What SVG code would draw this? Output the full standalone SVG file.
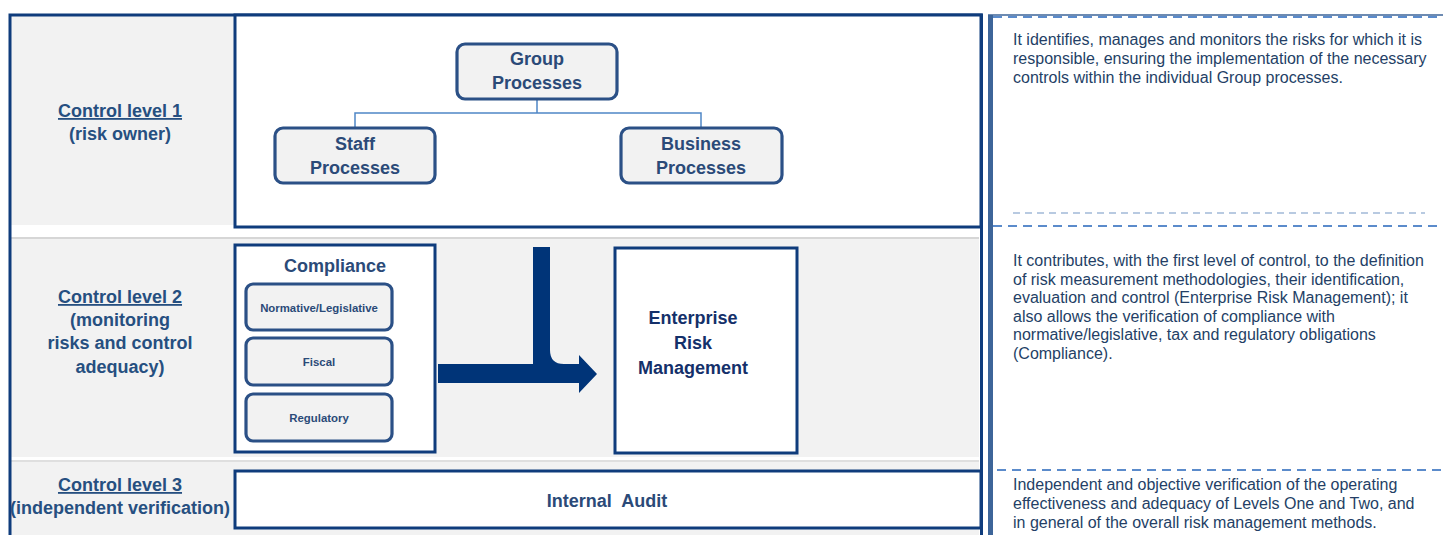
<svg xmlns="http://www.w3.org/2000/svg" width="1443" height="535" viewBox="0 0 1443 535">
<style>
.lbl{font-family:"Liberation Sans",Arial,sans-serif;font-weight:bold;font-size:18px;fill:#264f80;text-anchor:middle}
.u{text-decoration:underline}
.node{fill:#f2f2f2;stroke:#2b5086;stroke-width:3.2}
.nt{font-family:"Liberation Sans",Arial,sans-serif;font-weight:bold;font-size:18px;fill:#2b4a78;text-anchor:middle}
.st{font-family:"Liberation Sans",Arial,sans-serif;font-weight:bold;font-size:11.4px;fill:#2b4a78;text-anchor:middle}
.frame{fill:#ffffff;stroke:#0f3c7c;stroke-width:3}
.desc{font-family:"Liberation Sans",Arial,sans-serif;font-size:16px;fill:#243f66}
.conn{fill:none;stroke:#4f86c6;stroke-width:1.5}
.dash{fill:none;stroke:#5b8bcb;stroke-width:2;stroke-dasharray:9 6}
</style>
<rect width="1443" height="535" fill="#ffffff"/>
<!-- backgrounds -->
<rect x="11" y="16" width="223" height="209" fill="#f2f2f2"/>
<rect x="11" y="239" width="968" height="218" fill="#f2f2f2"/>
<rect x="11" y="462" width="968" height="73" fill="#f2f2f2"/>
<line x1="11" y1="238" x2="979" y2="238" stroke="#c8c8c8" stroke-width="1.5"/>
<line x1="11" y1="461" x2="979" y2="461" stroke="#d4d4d4" stroke-width="1.5"/>
<!-- outer frame -->
<path d="M10,535 V15 H981.5 V535" fill="none" stroke="#0f3c7c" stroke-width="3"/>

<g id="level1-box"><rect class="frame" x="235" y="15" width="746" height="212"/></g>
<g id="level2-compliance"><rect class="frame" x="235" y="245" width="200" height="207"/>
<text class="nt" x="335" y="272">Compliance</text></g>
<g id="level3-audit"><rect class="frame" x="235" y="471" width="746" height="57"/>
<text class="nt" x="607" y="507" xml:space="preserve">Internal  Audit</text></g>
<g id="erm"><rect class="frame" x="615" y="248" width="182" height="205"/>
<text class="nt" x="693" y="324" style="fill:#14306a">Enterprise</text>
<text class="nt" x="693" y="349" style="fill:#14306a">Risk</text>
<text class="nt" x="693" y="374" style="fill:#14306a">Management</text></g>

<!-- left labels -->
<g id="label-level1">
<text class="lbl u" x="120" y="117">Control level 1</text>
<text class="lbl" x="120" y="140">(risk owner)</text></g>
<g id="label-level2">
<text class="lbl u" x="120" y="303">Control level 2</text>
<text class="lbl" x="120" y="326">(monitoring</text>
<text class="lbl" x="120" y="349">risks and control</text>
<text class="lbl" x="120" y="373">adequacy)</text></g>
<g id="label-level3">
<text class="lbl u" x="120" y="491">Control level 3</text>
<text class="lbl" x="120" y="514">(independent verification)</text></g>

<!-- connectors -->
<g id="connectors">
<path class="conn" d="M537,100 V113 M355,127 V113 H701 V127"/>
<path d="M438,364 H533 V247 H550 V350 Q550,364 564,364 H579 V355 L597,374 L579,393 V383 H438 Z" fill="#003478"/>
</g>

<!-- process nodes -->
<g id="group-processes"><rect class="node" x="457" y="44" width="160" height="55" rx="8"/>
<text class="nt" x="537" y="65">Group</text><text class="nt" x="537" y="89">Processes</text></g>
<g id="staff-processes"><rect class="node" x="275" y="128" width="160" height="55" rx="8"/>
<text class="nt" x="355" y="150">Staff</text><text class="nt" x="355" y="174">Processes</text></g>
<g id="business-processes"><rect class="node" x="621" y="128" width="161" height="55" rx="8"/>
<text class="nt" x="701" y="150">Business</text><text class="nt" x="701" y="174">Processes</text></g>

<!-- compliance sub-items -->
<g id="normative"><rect class="node" x="246" y="284" width="146" height="46" rx="7" stroke-width="2.8"/>
<text class="st" x="319" y="312">Normative/Legislative</text></g>
<g id="fiscal"><rect class="node" x="246" y="338" width="146" height="47" rx="7" stroke-width="2.8"/>
<text class="st" x="319" y="366">Fiscal</text></g>
<g id="regulatory"><rect class="node" x="246" y="394" width="146" height="47" rx="7" stroke-width="2.8"/>
<text class="st" x="319" y="422">Regulatory</text></g>

<!-- right description panel -->
<g id="description-panel">
<line x1="990.5" y1="15" x2="990.5" y2="535" stroke="#3d6599" stroke-width="5"/>
<line x1="988" y1="15" x2="1443" y2="15" stroke="#3d6599" stroke-width="1.5"/>
<line x1="993" y1="17" x2="1443" y2="17" class="dash" stroke-width="2.5"/>
<line x1="1013" y1="213" x2="1425" y2="213" stroke="#7396c4" stroke-width="1.2" stroke-dasharray="7 5"/>
<line x1="993" y1="226" x2="1443" y2="226" class="dash"/>
<line x1="997" y1="470" x2="1443" y2="470" class="dash"/>
<text class="desc" x="1013" y="45">It identifies, manages and monitors the risks for which it is</text>
<text class="desc" x="1013" y="64">responsible, ensuring the implementation of the necessary</text>
<text class="desc" x="1013" y="83">controls within the individual Group processes.</text>
<text class="desc" x="1013" y="266">It contributes, with the first level of control, to the definition</text>
<text class="desc" x="1013" y="285">of risk measurement methodologies, their identification,</text>
<text class="desc" x="1013" y="303">evaluation and control (Enterprise Risk Management); it</text>
<text class="desc" x="1013" y="322">also allows the verification of compliance with</text>
<text class="desc" x="1013" y="340">normative/legislative, tax and regulatory obligations</text>
<text class="desc" x="1013" y="359">(Compliance).</text>
<text class="desc" x="1013" y="490">Independent and objective verification of the operating</text>
<text class="desc" x="1013" y="509">effectiveness and adequacy of Levels One and Two, and</text>
<text class="desc" x="1013" y="528">in general of the overall risk management methods.</text>
</g>
</svg>
